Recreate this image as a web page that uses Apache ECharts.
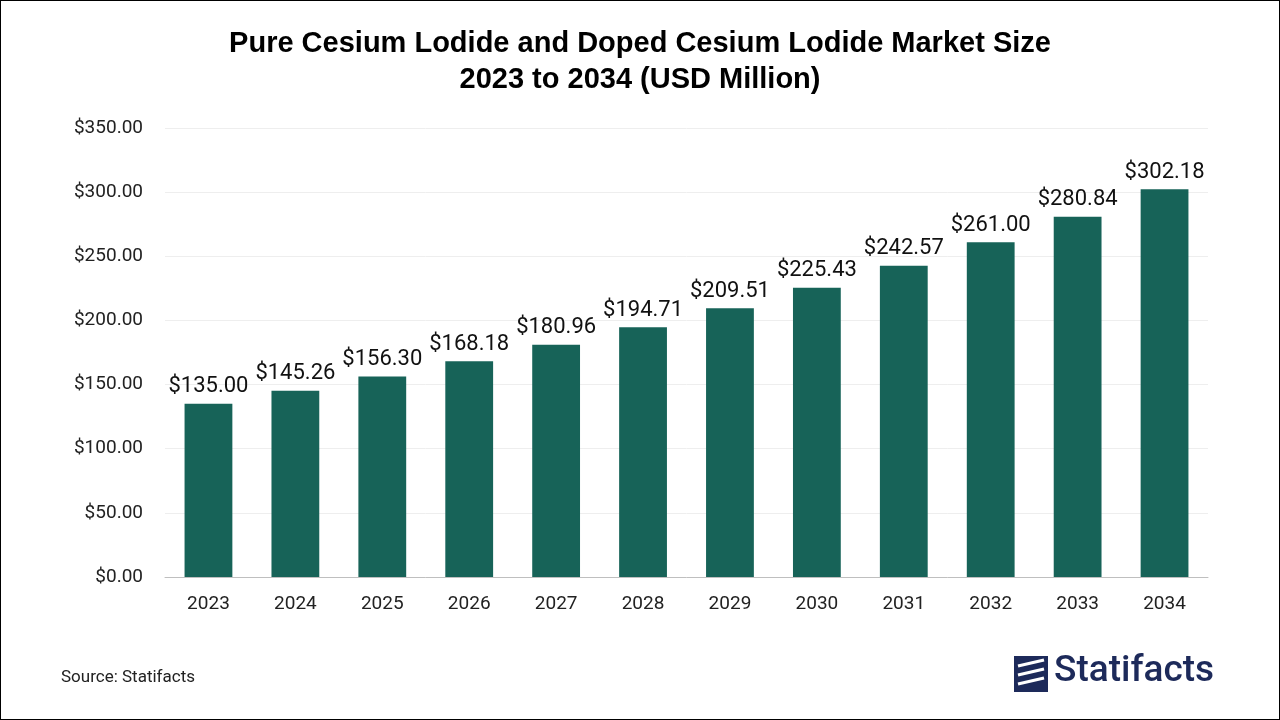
<!DOCTYPE html>
<html>
<head>
<meta charset="utf-8">
<script src="https://cdn.jsdelivr.net/npm/echarts@6/dist/echarts.min.js"></script>
<style>
  html, body { margin: 0; padding: 0; background: #fff; }
  #chart { width: 1278px; height: 718px; border: 1px solid #000; }
</style>
</head>
<body>
<div id="chart"></div>
<script>
var years = ["2023", "2024", "2025", "2026", "2027", "2028", "2029", "2030", "2031", "2032", "2033", "2034"];
var sizes = [135.00, 145.26, 156.30, 168.18, 180.96, 194.71, 209.51, 225.43, 242.57, 261.00, 280.84, 302.18];

var myChart = echarts.init(document.getElementById('chart'));
var option = {
    title: {
        text: 'Pure Cesium Lodide and Doped Cesium Lodide Market Size\n2023 to 2034 (USD Million)',
        left: 'center',
        top: 20,
        textStyle: { fontFamily: 'Liberation Sans', fontSize: 29, fontWeight: 'bold', color: '#000', lineHeight: 36 }
    },
    grid: { left: 164, right: 71, top: 127, bottom: 142 },
    xAxis: {
        type: 'category',
        data: years,
        axisTick: { show: false },
        axisLine: { lineStyle: { color: '#bfbfbf' } },
        axisLabel: { fontFamily: 'Roboto', fontSize: 19, color: '#222', margin: 18 }
    },
    yAxis: {
        type: 'value',
        min: 0, max: 350, interval: 50,
        axisLabel: {
            fontFamily: 'Roboto', fontSize: 19, color: '#222', margin: 22,
            formatter: function (v) { return '$' + v.toFixed(2); }
        },
        splitLine: { lineStyle: { color: '#eeeeee' } }
    },
    series: [{
        type: 'bar',
        data: sizes,
        barWidth: '55%',
        itemStyle: { color: '#176358' },
        label: {
            show: true, position: 'top', distance: 6,
            fontFamily: 'Roboto', fontSize: 22, color: '#111',
            formatter: function (p) { return '$' + p.value.toFixed(2); }
        }
    }],
    graphic: [
        { type: 'text', left: 60, top: 668, style: { text: 'Source: Statifacts', font: '17px Roboto', fill: '#222' } },
        { type: 'group', left: 1013, top: 652, children: [
            { type: 'rect', shape: { x: 0, y: 0, width: 34, height: 36 }, style: { fill: '#1d2a5a' } },
            { type: 'polyline', shape: { points: [[4, 10], [30, 4]] }, style: { stroke: '#fff', lineWidth: 3 } },
            { type: 'polyline', shape: { points: [[4, 19], [30, 13]] }, style: { stroke: '#fff', lineWidth: 3 } },
            { type: 'polyline', shape: { points: [[4, 28], [30, 22]] }, style: { stroke: '#fff', lineWidth: 3 } },
            { type: 'text', x: 40, y: -3, style: { text: 'Statifacts', font: '500 37px Roboto', fill: '#1d2a5a' } }
        ]}
    ]
};
myChart.setOption(option);
</script>
</body>
</html>
